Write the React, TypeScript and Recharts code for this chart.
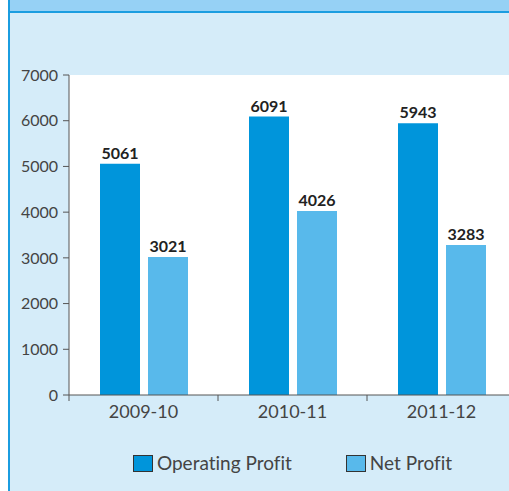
import React from "react";
import {
  BarChart,
  Bar,
  XAxis,
  YAxis,
  CartesianGrid,
  Legend,
  LabelList,
} from "recharts";

const years = ["2009-10", "2010-11", "2011-12"];
const operatingProfit = [5061, 6091, 5943];
const netProfit = [3021, 4026, 3283];
const yTicks = [0, 1000, 2000, 3000, 4000, 5000, 6000, 7000];
const seriesOrder = ["Operating Profit", "Net Profit"];

const DARK = "#0095db";
const LIGHT = "#58b9eb";
const FONT = "Lato, 'Open Sans', sans-serif";

const data = years.map((year, i) => ({
  year,
  operating: operatingProfit[i],
  net: netProfit[i],
}));

// category tick: label in the middle, tick mark on the left edge of the band
function YearTick(props: any) {
  const { x, y, payload } = props;
  const half = payload && payload.offset ? payload.offset : 74.5;
  return (
    <g>
      <line x1={x - half} x2={x - half} y1={y - 10} y2={y - 4} stroke="#555" />
      <text
        x={x}
        y={y}
        dy="0.72em"
        textAnchor="middle"
        fill="#444"
        fontSize={18}
      >
        {payload.value}
      </text>
    </g>
  );
}

function LegendBox({ payload }: any) {
  const items = [...(payload || [])].sort(
    (a: any, b: any) => seriesOrder.indexOf(a.value) - seriesOrder.indexOf(b.value)
  );
  return (
    <div
      style={{
        height: 24,
        paddingLeft: 69,
        display: "flex",
        justifyContent: "center",
        alignItems: "center",
        gap: 54,
        fontFamily: FONT,
        fontVariantLigatures: "none",
      }}
    >
      {items.map((p: any) => (
        <div key={p.value} style={{ display: "flex", alignItems: "center" }}>
          <span
            style={{
              width: 18,
              height: 15,
              background: p.color,
              border: "1px solid #333",
              marginRight: 4,
            }}
          />
          <span style={{ fontSize: 19, color: "#444", lineHeight: "24px" }}>
            {p.value}
          </span>
        </div>
      ))}
    </div>
  );
}

export default function App() {
  return (
    <div
      style={{
        position: "absolute",
        left: 0,
        top: 0,
        width: 509,
        height: 491,
        overflow: "hidden",
        background: "#fff",
        fontFamily: FONT,
        fontVariantLigatures: "none",
      }}
    >
      <div
        style={{
          position: "absolute",
          left: 8,
          top: 0,
          right: 0,
          bottom: 0,
          background: "#d5ecf9",
          borderLeft: "2px solid #1b9de0",
        }}
      >
        <div
          style={{
            height: 11,
            background: "#96d1f5",
            borderBottom: "2px solid #1b9de0",
          }}
        />
      </div>
      <div style={{ position: "absolute", left: 0, top: 0 }}>
        <BarChart
          width={516}
          height={491}
          data={data}
          margin={{ top: 75, right: 0, left: 0, bottom: 16 }}
          barSize={40}
          barGap={8}
        >
          <CartesianGrid fill="#fff" horizontal={false} vertical={false} />
          <XAxis
            dataKey="year"
            height={56}
            tickLine={false}
            tickSize={6}
            tickMargin={4}
            axisLine={{ stroke: "#555" }}
            tick={<YearTick />}
            interval={0}
          />
          <YAxis
            width={69}
            domain={[0, 7000]}
            ticks={yTicks}
            interval={0}
            tickSize={6}
            tickMargin={5}
            axisLine={{ stroke: "#555" }}
            tickLine={{ stroke: "#555" }}
            tick={{ fill: "#444", fontSize: 16 }}
          />
          <Legend verticalAlign="bottom" content={<LegendBox />} />
          <Bar
            dataKey="operating"
            name="Operating Profit"
            fill={DARK}
            isAnimationActive={false}
          >
            <LabelList
              dataKey="operating"
              position="top"
              fill="#222"
              fontSize={16}
              fontWeight="bold"
            />
          </Bar>
          <Bar
            dataKey="net"
            name="Net Profit"
            fill={LIGHT}
            isAnimationActive={false}
          >
            <LabelList
              dataKey="net"
              position="top"
              fill="#222"
              fontSize={16}
              fontWeight="bold"
            />
          </Bar>
        </BarChart>
      </div>
    </div>
  );
}
